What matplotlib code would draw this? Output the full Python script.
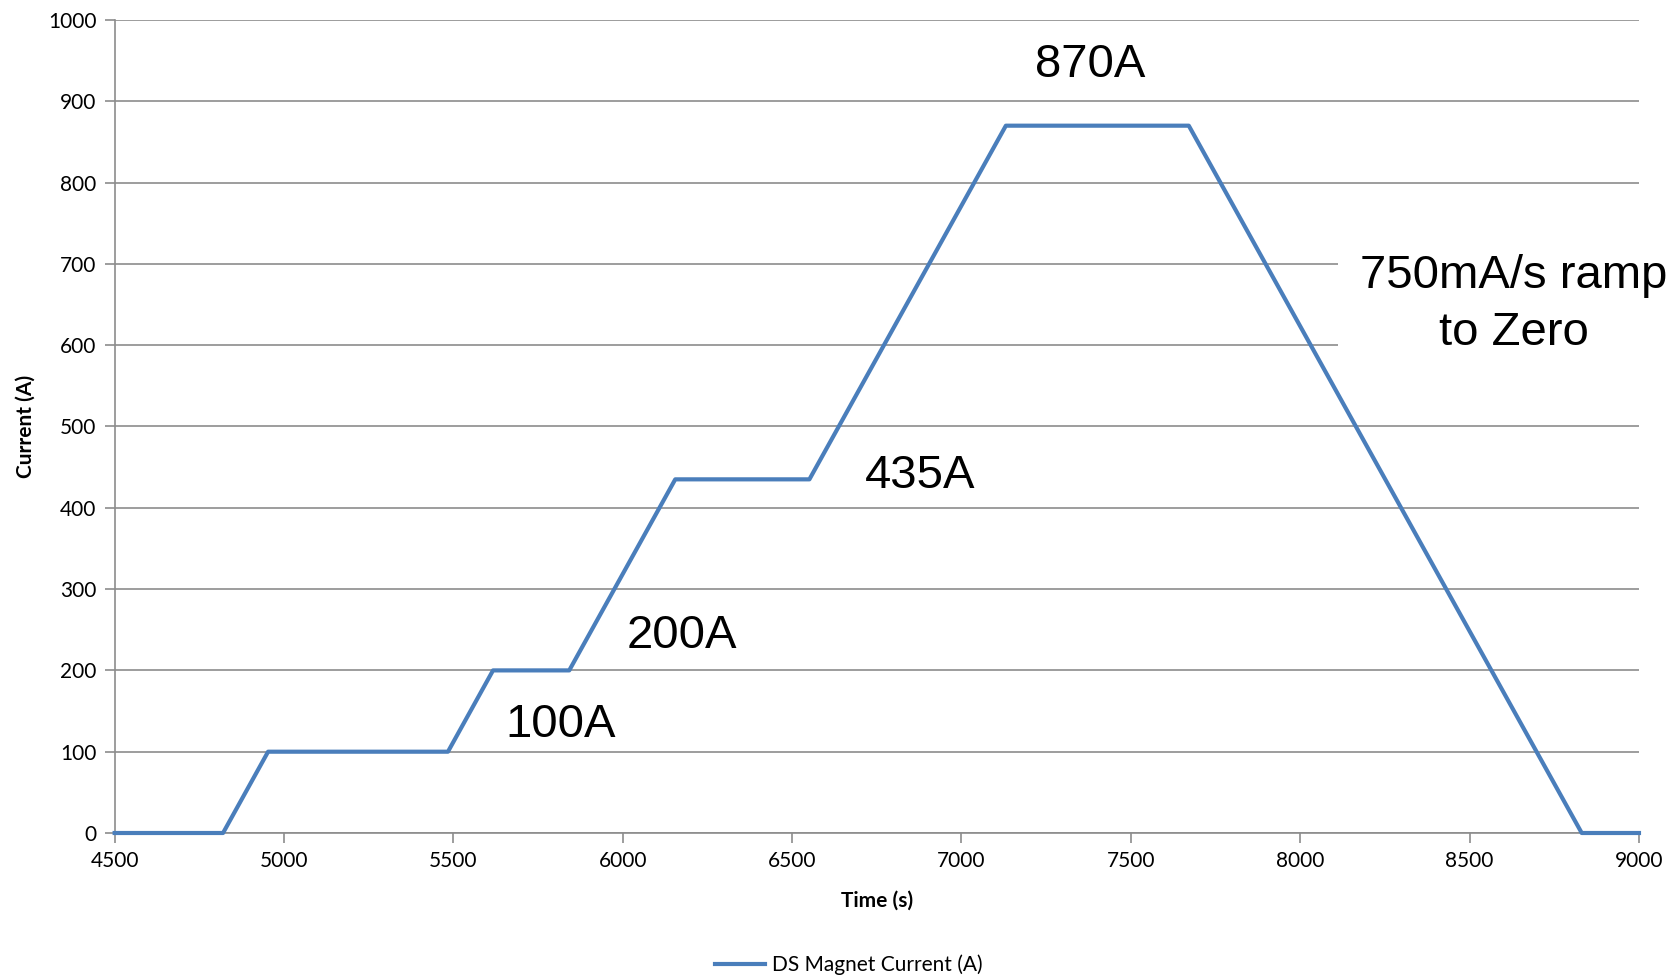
#!/usr/bin/env python3
import matplotlib
matplotlib.use("Agg")
import matplotlib.pyplot as plt

# ===== Data =====
time_s = [4500, 4820, 4953, 5484, 5617, 5842, 6155, 6551, 7131, 7671, 8831, 9000]
current_a = [0, 0, 100, 100, 200, 200, 435, 435, 870, 870, 0, 0]

x_ticks = [4500, 5000, 5500, 6000, 6500, 7000, 7500, 8000, 8500, 9000]
y_ticks = [0, 100, 200, 300, 400, 500, 600, 700, 800, 900, 1000]

notes = ["870A", "750mA/s ramp\nto Zero", "435A", "200A", "100A"]
note_x = [7380, 8630, 6877, 6174, 5816]
note_y = [945, 650, 439, 242, 133]
# ================

LINE_COL = "#4a7ebb"
GRID_COL = "#8c8c8c"
TICK_FONT = ["Lato", "DejaVu Sans"]
NOTE_FONT = ["Liberation Sans", "DejaVu Sans"]


def main():
    fig = plt.figure(figsize=(16.81, 9.8), dpi=100)
    ax = fig.add_axes([0.0682, 0.15, 0.9068, 0.8296])

    ax.plot(time_s, current_a, color=LINE_COL, lw=3.0,
            label="DS Magnet Current (A)", zorder=3, clip_on=False)

    ax.set_xlim(4500, 9000)
    ax.set_ylim(0, 1000)
    ax.set_xticks(x_ticks)
    ax.set_yticks(y_ticks)
    ax.set_xticklabels([str(t) for t in x_ticks], family=TICK_FONT, fontsize=15)
    ax.set_yticklabels([str(t) for t in y_ticks], family=TICK_FONT, fontsize=15)

    ax.yaxis.grid(True, color=GRID_COL, lw=1.2, zorder=0)
    ax.set_axisbelow(True)
    for side in ["top", "right"]:
        ax.spines[side].set_visible(False)
    for side in ["left", "bottom"]:
        ax.spines[side].set_color(GRID_COL)
        ax.spines[side].set_linewidth(1.2)
    ax.tick_params(axis="both", direction="out", length=7, width=1.2,
                   color=GRID_COL, pad=6)

    ax.set_xlabel("Time (s)", family=TICK_FONT, fontsize=15, fontweight="bold",
                  labelpad=14)
    ax.set_ylabel("Current (A)", family=TICK_FONT, fontsize=15, fontweight="bold",
                  labelpad=9)

    for txt, x, y in zip(notes, note_x, note_y):
        box = None
        if "\n" in txt:
            box = dict(facecolor="white", edgecolor="none", pad=16)
        ax.text(x, y, txt, family=NOTE_FONT, fontsize=34, ha="center",
                va="center", linespacing=1.38, bbox=box, zorder=4, clip_on=False)

    fig.legend(loc="center", bbox_to_anchor=(0.505, 0.0155), frameon=False,
               prop={"family": TICK_FONT, "size": 15}, handlelength=2.4,
               handletextpad=0.3)

    fig.savefig("out.png", dpi=100, facecolor="white")


if __name__ == "__main__":
    main()
